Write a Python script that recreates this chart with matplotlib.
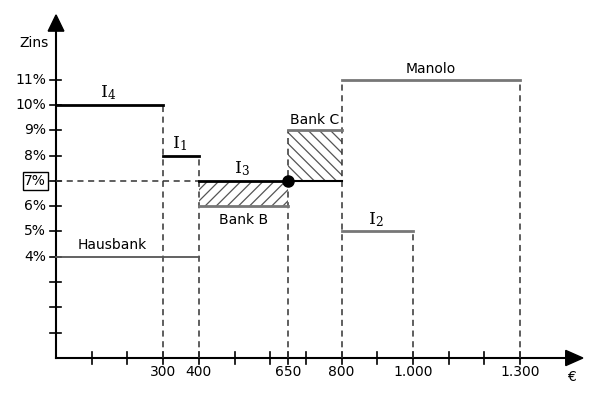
import matplotlib.pyplot as plt

plt.rcParams['font.family'] = ['DejaVu Sans']
plt.rcParams['mathtext.fontset'] = 'dejavuserif'
plt.rcParams['hatch.linewidth'] = 0.9

# investments (I_n): from, to, rate in %
inv_labels = [r'$\mathrm{I}_4$', r'$\mathrm{I}_1$', r'$\mathrm{I}_3$', r'$\mathrm{I}_2$']
inv_x0 = [0, 300, 400, 800]
inv_x1 = [300, 400, 650, 1000]
inv_rate = [10, 8, 7, 5]

# bank offers: from, to, rate in %
bank_names = ['Hausbank', 'Bank B', 'Bank C', 'Manolo']
bank_x0 = [0, 400, 650, 800]
bank_x1 = [400, 650, 800, 1300]
bank_rate = [4, 6, 9, 11]

# cut-off rate
cut_rate = 7
cut_x = 650

x_ticks = [100, 200, 300, 400, 500, 600, 650, 700, 800, 900, 1000, 1100, 1200, 1300]
x_labeled = [300, 400, 650, 800, 1000, 1300]
x_labels = ['300', '400', '650', '800', '1.000', '1.300']
y_ticks = [1, 2, 3, 4, 5, 6, 7, 8, 9, 10, 11]
y_labeled = [4, 5, 6, 7, 8, 9, 10, 11]

fig = plt.figure(figsize=(6, 4), dpi=100)
ax = fig.add_axes([0, 0, 1, 1])
ax.set_xlim(-157, 1524)
ax.set_ylim(-1.66, 14.15)
ax.axis('off')

black = '#000000'
gray = '#777777'
dash = '#333333'

# axes with arrow heads
ax.plot([0, 0], [0, 12.95], color=black, lw=1.5)
ax.plot([0, 1430], [0, 0], color=black, lw=1.5)
ax.fill([-22, 22, 0], [12.92, 12.92, 13.56], color=black)
ax.fill([1428, 1428, 1476], [-0.3, 0.3, 0], color=black)

# ticks
for t in x_ticks:
    ax.plot([t, t], [-0.22, 0.22], color=black, lw=1.2)
for t in y_ticks:
    ax.plot([-18, 14], [t, t], color=black, lw=1.2)
for t, lab in zip(x_labeled, x_labels):
    ax.text(t, -0.55, lab, ha='center', va='center', fontsize=10)
for t in y_labeled:
    kw = {}
    if t == cut_rate:
        kw['bbox'] = dict(boxstyle='square,pad=0.12', fc='white', ec=black, lw=1)
    ax.text(-28, t, f'{t}%', ha='right', va='center', fontsize=10, **kw)
ax.text(-62, 12.45, 'Zins', ha='center', va='center', fontsize=10)
ax.text(1443, -0.75, '€', ha='center', va='center', fontsize=10)

# dashed guide lines
dkw = dict(color=dash, lw=1.1, ls=(0, (4, 3)))
ax.plot([0, 400], [cut_rate, cut_rate], **dkw)
ax.plot([300, 300], [0, 10], **dkw)
ax.plot([400, 400], [0, 8], **dkw)
ax.plot([650, 650], [0, 9], **dkw)
ax.plot([800, 800], [0, 11], **dkw)
ax.plot([1000, 1000], [0, 5], **dkw)
ax.plot([1300, 1300], [0, 11], **dkw)

# hatched gaps between cut-off rate and bank rates
ax.fill_between([bank_x0[1], bank_x1[1]], bank_rate[1], cut_rate,
                facecolor='none', edgecolor='#555555', hatch='///', lw=0)
ax.fill_between([bank_x0[2], bank_x1[2]], cut_rate, bank_rate[2],
                facecolor='none', edgecolor='#555555', hatch='\\\\\\', lw=0)

# bank offers
for i, name in enumerate(bank_names):
    c = '#555555' if i == 0 else gray
    lw = 1.3 if i == 0 else 2
    ax.plot([bank_x0[i], bank_x1[i]], [bank_rate[i]] * 2, color=c, lw=lw)
ax.text(60, 4.2, bank_names[0], ha='left', va='bottom', fontsize=10)
ax.text(525, 5.75, bank_names[1], ha='center', va='top', fontsize=10)
ax.text(725, 9.15, bank_names[2], ha='center', va='bottom', fontsize=10)
ax.text(1050, 11.15, bank_names[3], ha='center', va='bottom', fontsize=10)

# investments
for i, lab in enumerate(inv_labels):
    c = gray if inv_rate[i] == 5 else black
    ax.plot([inv_x0[i], inv_x1[i]], [inv_rate[i]] * 2, color=c, lw=2)
    ax.text((inv_x0[i] + inv_x1[i]) / 2 - 5, inv_rate[i] + 0.1, lab,
            ha='center', va='bottom', fontsize=12.5)
ax.plot([cut_x, 800], [cut_rate, cut_rate], color=black, lw=1.5)
ax.plot([cut_x], [cut_rate], 'o', color=black, ms=8)

fig.savefig('out.png', dpi=100)
